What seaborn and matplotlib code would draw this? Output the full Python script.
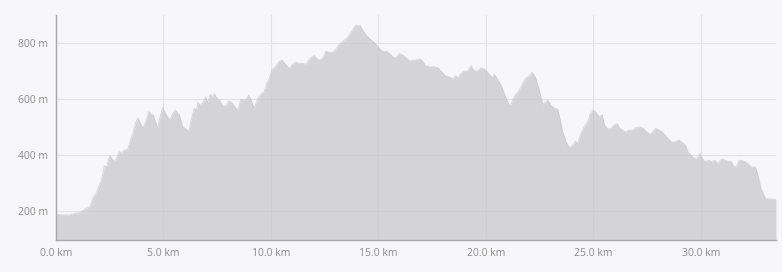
"""Elevation profile along a ~33.5 km route, drawn as a filled area."""

import matplotlib
matplotlib.use("Agg")
import matplotlib.pyplot as plt
import numpy as np
import pandas as pd
import seaborn as sns

# distance along the route (km) and elevation (m)
distance_km = [
    0.00, 0.62, 0.93, 1.12, 1.24, 1.40, 1.55, 1.63, 1.74, 1.86, 1.98, 2.09,
    2.17, 2.25, 2.36, 2.45, 2.51, 2.60, 2.71, 2.82, 2.95, 3.04, 3.18, 3.33,
    3.44, 3.57, 3.69, 3.81, 3.88, 4.00, 4.11, 4.22, 4.31, 4.42, 4.53, 4.73,
    4.84, 4.96, 5.12, 5.30, 5.43, 5.55,
    5.74, 5.89, 6.05, 6.20, 6.28, 6.43, 6.54, 6.60, 6.70, 6.82, 6.95, 7.05,
    7.18, 7.26, 7.35, 7.47, 7.60, 7.75, 7.91, 8.03, 8.14, 8.29, 8.45, 8.60,
    8.76, 8.87, 8.96, 9.08, 9.22, 9.38, 9.53, 9.67, 9.80, 9.92, 10.05, 10.20,
    10.36, 10.51, 10.67, 10.85, 11.01, 11.13,
    11.32, 11.47, 11.63, 11.75, 11.86, 12.02, 12.12, 12.25, 12.40, 12.56,
    12.68, 12.84, 12.99, 13.15, 13.33, 13.52, 13.64, 13.77, 13.88, 13.99,
    14.08, 14.14, 14.26, 14.42, 14.61, 14.81, 14.96, 15.12, 15.23, 15.38,
    15.50, 15.66, 15.81, 15.97, 16.12, 16.28, 16.43, 16.59, 16.71,
    16.93, 17.05, 17.18, 17.36, 17.60, 17.75, 17.91, 18.11, 18.26, 18.45,
    18.57, 18.68, 18.84, 18.99, 19.15, 19.30, 19.41, 19.57, 19.78, 19.92,
    20.03, 20.15, 20.28, 20.39, 20.54, 20.70, 20.85, 21.01, 21.12, 21.24,
    21.39, 21.55, 21.71, 21.86, 22.02, 22.14, 22.29,
    22.48, 22.64, 22.76, 22.87, 23.02, 23.18, 23.33, 23.44, 23.57, 23.72,
    23.88, 24.03, 24.16, 24.26, 24.42, 24.57, 24.73, 24.84, 24.99, 25.12,
    25.27, 25.40, 25.50, 25.66, 25.81, 25.97, 26.09, 26.23, 26.36, 26.48,
    26.64, 26.82, 26.98, 27.16, 27.32, 27.47, 27.63, 27.75, 27.88,
    28.06, 28.19, 28.34, 28.50, 28.65, 28.81, 28.96, 29.12, 29.27, 29.40,
    29.53, 29.69, 29.84, 29.95, 30.08, 30.20, 30.39, 30.51, 30.62, 30.79,
    30.95, 31.13, 31.29, 31.39, 31.50, 31.63, 31.78, 31.97, 32.12, 32.33,
    32.53, 32.64, 32.79, 33.00, 33.18, 33.49,
]
elevation_m = [
    188, 186, 193, 195, 202, 210, 214, 227, 251, 263, 287, 305,
    329, 362, 358, 388, 398, 386, 379, 388, 412, 407, 418, 421,
    448, 477, 513, 533, 521, 501, 505, 531, 555, 545, 543, 495,
    537, 569, 545, 525, 549, 561,
    543, 501, 493, 486, 525, 567, 561, 588, 579, 585, 608, 588,
    617, 602, 620, 605, 596, 576, 576, 593, 590, 576, 557, 600,
    596, 602, 614, 596, 567, 602, 617, 624, 656, 674, 704, 715,
    733, 739, 724, 710, 724, 731,
    727, 727, 724, 739, 748, 755, 745, 739, 745, 771,
    767, 767, 775, 793, 805, 817, 829, 843, 858, 864,
    858, 864, 846, 829, 814, 802, 787, 775, 769, 771,
    763, 751, 748, 763, 757, 748, 736, 739, 739,
    743, 736, 719, 715, 715, 712, 700, 683, 680, 671,
    683, 676, 692, 700, 700, 719, 704, 698, 712, 707,
    700, 688, 676, 688, 671, 650, 620, 590, 573, 596,
    617, 632, 656, 676, 683, 695, 680,
    632, 581, 588, 596, 579, 567, 564, 531, 483, 448,
    426, 436, 450, 442, 477, 501, 519, 545, 561, 552,
    537, 545, 510, 493, 495, 507, 513, 495, 489, 481,
    489, 489, 498, 501, 495, 483, 474, 481, 495,
    489, 483, 471, 457, 445, 448, 454, 445, 436, 410,
    400, 388, 390, 406, 386, 376, 382, 374, 382, 370,
    386, 382, 376, 379, 362, 358, 382, 379, 374, 358,
    358, 331, 281, 245, 243, 242,
]

x_ticks = [0, 5, 10, 15, 20, 25, 30]
y_ticks = [200, 400, 600, 800]

BG = "#f7f7f9"
FILL = "#c9c9cc"
TEXT = "#8c8c8c"

sns.set_theme(style="whitegrid", rc={
    "axes.facecolor": BG,
    "figure.facecolor": BG,
    "grid.color": "#e3e3e6",
    "grid.linewidth": 0.8,
})
plt.rcParams["font.family"] = ["Open Sans", "DejaVu Sans"]

df = pd.DataFrame({"km": distance_km, "ele": elevation_m})

fig = plt.figure(figsize=(7.82, 2.72), dpi=100)
ax = fig.add_axes([56 / 782, 32 / 272, 720 / 782, 225 / 272])

y_min, y_max = 97, 900
ax.fill_between(df["km"], y_min, df["ele"], color=FILL, alpha=0.75,
                linewidth=0, zorder=2)
sns.lineplot(data=df, x="km", y="ele", ax=ax, color=FILL, alpha=0.75,
             linewidth=0.6, zorder=2)

ax.set_xlim(0, df["km"].iloc[-1])
ax.set_ylim(y_min, y_max)
ax.set_xticks(x_ticks)
ax.set_xticklabels([f"{v:.1f} km" for v in x_ticks])
ax.set_yticks(y_ticks)
ax.set_yticklabels([f"{v} m" for v in y_ticks])
ax.set_xlabel("")
ax.set_ylabel("")
ax.grid(True, zorder=1)
ax.set_axisbelow(True)

# little end ticks on the axis lines, like the original
ax.set_xticks([0, df["km"].iloc[-1]], minor=True)
ax.set_yticks([y_min, y_max], minor=True)
ax.tick_params(which="minor", length=4, width=0.8, color="#a8a8a8")
ax.tick_params(which="major", length=0, labelsize=7.5, labelcolor=TEXT)
ax.tick_params(axis="x", which="major", pad=6)
ax.tick_params(axis="y", which="major", pad=6)

for side in ("top", "right"):
    ax.spines[side].set_visible(False)
for side in ("left", "bottom"):
    ax.spines[side].set_color("#a8a8a8")
    ax.spines[side].set_linewidth(1.0)
    ax.spines[side].set_zorder(3)

fig.savefig("out.png", dpi=100, facecolor=BG)
